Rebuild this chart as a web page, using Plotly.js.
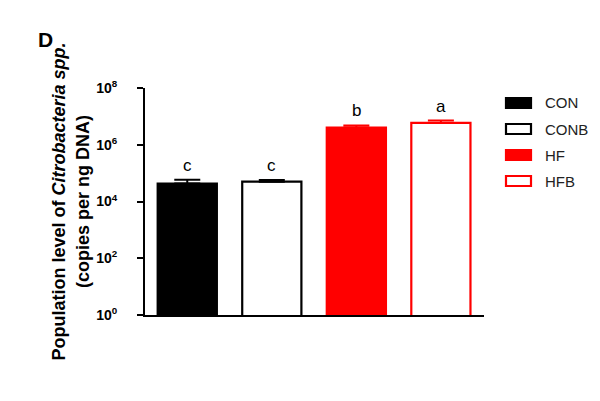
<!DOCTYPE html>
<html><head><meta charset="utf-8">
<script src="https://cdn.plot.ly/plotly-3.0.1.min.js"></script>
<style>html,body{margin:0;padding:0;background:#fff}#c{width:600px;height:401px}</style>
</head><body><div id="c"></div>
<script>
const groups = ['CON', 'CONB', 'HF', 'HFB'];
const means = [43000, 50000, 4000000, 5900000];
const errs = [16000, 7000, 800000, 1200000];
const letters = ['c', 'c', 'b', 'a'];
const fills = ['#000000', '#ffffff', '#ff0000', '#ffffff'];
const edges = ['#000000', '#000000', '#ff0000', '#ff0000'];
const tickVals = [1, 100, 10000, 1000000, 100000000];
const tickText = ['10<sup>0</sup>', '10<sup>2</sup>', '10<sup>4</sup>', '10<sup>6</sup>', '10<sup>8</sup>'];

const F = 'Arial, "Liberation Sans", sans-serif';
const traces = groups.map((g, i) => ({
  type: 'bar', x: [i], y: [means[i]], width: 0.7, name: g, showlegend: false,
  marker: {color: fills[i], line: {color: edges[i], width: 2.2}},
  error_y: {type: 'data', array: [errs[i]], arrayminus: [0], symmetric: false,
            color: edges[i], thickness: 2, width: 13}
}));

const annotations = groups.map((g, i) => ({
  x: i, y: Math.log10(means[i] + errs[i]), xref: 'x', yref: 'y',
  text: letters[i], showarrow: false, yanchor: 'bottom', yshift: 3,
  font: {family: F, size: 17, color: '#000'}
}));
const shapes = [];
groups.forEach((g, i) => {
  const yc = 103 + i * 26;
  shapes.push({type: 'rect', xref: 'paper', yref: 'paper',
    x0: (506 - 145) / 339, x1: (531 - 145) / 339,
    y0: (315 - (yc + 5)) / 227, y1: (315 - (yc - 5)) / 227,
    fillcolor: fills[i], line: {color: edges[i], width: 2.2}});
  annotations.push({xref: 'paper', yref: 'paper', x: (543 - 145) / 339, y: (315 - yc) / 227,
    xanchor: 'left', yanchor: 'middle', text: g, showarrow: false,
    font: {family: F, size: 15, color: '#222'}});
});
annotations.push({xref: 'paper', yref: 'paper', x: (36 - 145) / 339, y: (315 - 40) / 227,
  xanchor: 'left', yanchor: 'middle', text: '<b>D</b>', showarrow: false,
  font: {family: F, size: 21, color: '#000'}});

const layout = {
  width: 600, height: 401,
  margin: {l: 145, r: 116, t: 88, b: 86},
  paper_bgcolor: '#fff', plot_bgcolor: '#fff',
  barmode: 'overlay',
  font: {family: F, color: '#000'},
  xaxis: {range: [-0.5, 3.51], showticklabels: false, ticks: '', showgrid: false,
          zeroline: false, showline: true, linecolor: '#000', linewidth: 2},
  yaxis: {type: 'log', range: [0, 8], tickvals: tickVals, ticktext: tickText,
          ticks: 'outside', ticklen: 6, tickwidth: 2, tickcolor: '#000',
          ticklabelstandoff: 17,
          showgrid: false, zeroline: false, showline: true, linecolor: '#000', linewidth: 2,
          tickfont: {family: F, size: 14, color: '#000', weight: 'bold'},
          title: {text: '<b>Population level of <i>Citrobacteria spp.</i></b><br><b>(copies per ng DNA)</b>',
                  font: {family: F, size: 18, color: '#000'}, standoff: 2}},
  shapes: shapes,
  annotations: annotations
};
Plotly.newPlot('c', traces, layout, {displayModeBar: false, staticPlot: true});
</script></body></html>
